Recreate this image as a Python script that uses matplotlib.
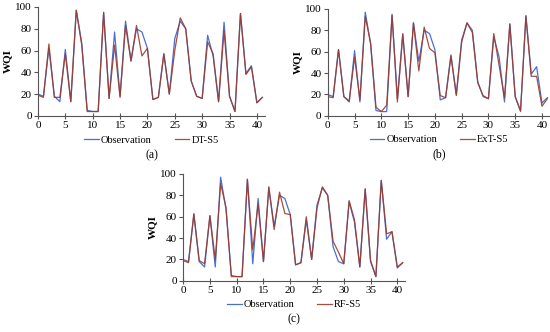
import numpy as np
import matplotlib.pyplot as plt

plt.rcParams['font.family'] = ['Liberation Serif', 'DejaVu Serif']

x = np.arange(42)

observation = [20, 18, 62, 18, 13, 61, 13, 97, 67, 5, 4, 4, 95, 16, 77, 18, 87, 51,
               80, 77, 62, 15, 17, 57, 20, 71, 87, 80, 32, 18, 16, 74, 55, 13, 86, 18,
               4, 94, 39, 46, 12, 17]

dt_s5 = [19, 17, 66, 17, 17, 57, 13, 97, 65, 4, 4, 4, 95, 16, 65, 17, 83, 50,
         83, 55, 62, 15, 17, 57, 20, 60, 90, 80, 32, 18, 16, 68, 57, 13, 78, 18,
         4, 94, 38, 45, 12, 17]

ext_s5 = [18, 17, 62, 18, 14, 55, 15, 93, 68, 8, 4, 10, 94, 13, 76, 18, 87, 42,
          83, 63, 59, 19, 17, 56, 19, 69, 87, 78, 31, 19, 16, 77, 47, 17, 86, 18,
          5, 93, 37, 37, 9, 16]

rf_s5 = [19, 17, 63, 19, 16, 61, 20, 91, 69, 4, 4, 4, 95, 29, 72, 18, 88, 48,
         83, 63, 62, 15, 17, 60, 20, 68, 88, 80, 37, 27, 16, 75, 57, 13, 86, 19,
         4, 94, 44, 46, 13, 17]

obs_color = '#4a6fd0'
model_color = '#9c3b2a'


def panel(ax, model, name, tag):
    ax.plot(x, observation, color=obs_color, lw=0.9, label='Observation')
    ax.plot(x, model, color=model_color, lw=0.9, alpha=0.9, label=name)
    ax.set_xlim(0, 41.5)
    ax.set_ylim(0, 100)
    ax.set_xticks(range(0, 41, 5))
    ax.set_yticks(range(0, 101, 20))
    for s in ['top', 'right']:
        ax.spines[s].set_visible(False)
    for s in ['left', 'bottom']:
        ax.spines[s].set_color('#555555')
        ax.spines[s].set_linewidth(0.8)
    ax.tick_params(axis='x', direction='inout', length=4, width=0.8,
                   color='#555555', labelsize=8, pad=1.5)
    ax.tick_params(axis='y', direction='out', length=3, width=0.8,
                   color='#555555', labelsize=8, pad=1.5)
    ax.set_ylabel('WQI', fontsize=8, fontweight='bold', labelpad=2)
    ax.legend(loc='upper center', bbox_to_anchor=(0.5, -0.13), ncol=2,
              frameon=False, fontsize=7.5, handlelength=1.4, handletextpad=0.2,
              columnspacing=2.2, borderpad=0)
    ax.text(0.5, -0.36, tag, transform=ax.transAxes, ha='center', va='center',
            fontsize=8.5)


fig = plt.figure(figsize=(5.5, 3.32), dpi=100)
ax_a = fig.add_axes([0.069, 0.651, 0.413, 0.328])
ax_b = fig.add_axes([0.596, 0.651, 0.404, 0.322])
ax_c = fig.add_axes([0.333, 0.154, 0.404, 0.322])

panel(ax_a, dt_s5, 'DT-S5', '(a)')
panel(ax_b, ext_s5, 'ExT-S5', '(b)')
panel(ax_c, rf_s5, 'RF-S5', '(c)')

fig.savefig('out.png', dpi=100)
